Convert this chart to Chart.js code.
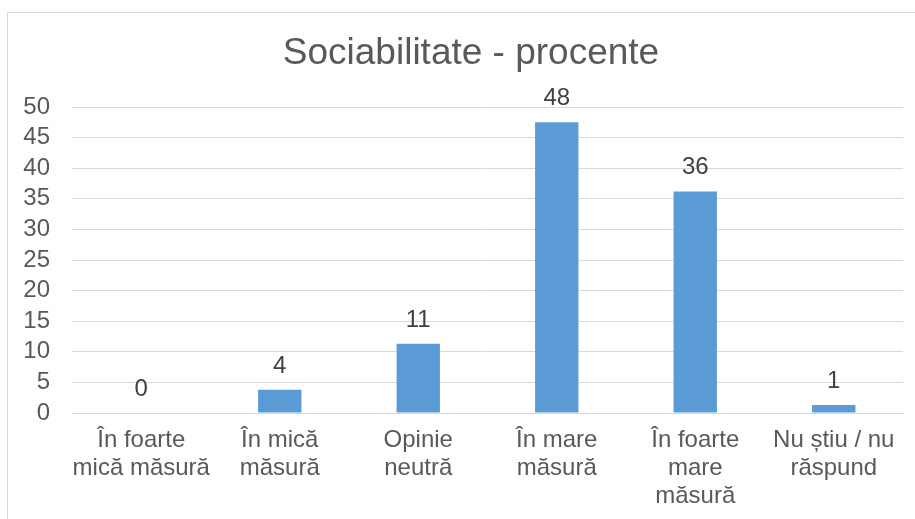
<!DOCTYPE html>
<html lang="ro">
<head>
<meta charset="utf-8">
<title>Sociabilitate - procente</title>
<script src="https://cdn.jsdelivr.net/npm/chart.js@4/dist/chart.umd.min.js"></script>
<style>
    html, body { margin: 0; padding: 0; background: #fff; overflow: hidden; }
    #frame { position: absolute; left: 7px; top: 12px; width: 1000px; height: 600px; border: 1px solid #D9D9D9; }
    #wrap { position: absolute; left: 0; top: 0; width: 942px; height: 519px; }
</style>
</head>
<body>
<div id="frame"></div>
<div id="wrap"><canvas id="chart"></canvas></div>

<script>
// categories (multi-line labels, as in the original)
var categories = [
    ["În foarte", "mică măsură"],
    ["În mică", "măsură"],
    ["Opinie", "neutră"],
    ["În mare", "măsură"],
    ["În foarte", "mare", "măsură"],
    ["Nu știu / nu", "răspund"]
];
// bar heights
var percents = [0, 3.8, 11.3, 47.5, 36.2, 1.3];
// numbers printed above the bars
var shownPercents = [0, 4, 11, 48, 36, 1];
var yTicks = [0, 5, 10, 15, 20, 25, 30, 35, 40, 45, 50];
var chartTitle = 'Sociabilitate - procente';

var fontFamily = '"Liberation Sans", Arial, sans-serif';

// prints the value above each bar
var barLabels = {
    id: 'barLabels',
    afterDatasetsDraw: function(chart) {
        var ctx = chart.ctx;
        var meta = chart.getDatasetMeta(0);
        ctx.save();
        ctx.font = '24px ' + fontFamily;
        ctx.fillStyle = '#404040';
        ctx.textAlign = 'center';
        ctx.textBaseline = 'alphabetic';
        meta.data.forEach(function(bar, i) {
            ctx.fillText(String(shownPercents[i]), bar.x, bar.y - 17);
        });
        ctx.restore();
    }
};

// title centred on the whole frame (not just the plot area)
var frameTitle = {
    id: 'frameTitle',
    afterDraw: function(chart) {
        var ctx = chart.ctx;
        ctx.save();
        ctx.font = '37px ' + fontFamily;
        ctx.fillStyle = '#595959';
        ctx.textAlign = 'center';
        ctx.textBaseline = 'alphabetic';
        ctx.fillText(chartTitle, chart.width / 2, 64);
        ctx.restore();
    }
};

var ctx = document.getElementById("chart").getContext("2d");
var myChart = new Chart(ctx, {
    type: 'bar',
    data: {
        labels: categories,
        datasets: [{
            label: 'Sociabilitate',
            data: percents,
            backgroundColor: '#5B9BD5',
            borderWidth: 0,
            barPercentage: 0.313,
            categoryPercentage: 1
        }]
    },
    options: {
        responsive: true,
        maintainAspectRatio: false,
        animation: false,
        layout: { padding: { left: 0, right: 39, top: 107, bottom: 0 } },
        plugins: {
            legend: { display: false },
            tooltip: { enabled: false },
            title: { display: false }
        },
        scales: {
            x: {
                afterFit: function(scale) { scale.height = 106; },
                grid: { display: false, drawTicks: false },
                border: { display: true, color: '#D9D9D9', width: 1 },
                ticks: {
                    color: '#595959',
                    font: { family: fontFamily, size: 24, lineHeight: 1.167 },
                    padding: 13,
                    maxRotation: 0,
                    autoSkip: false
                }
            },
            y: {
                min: 0,
                max: 50,
                afterBuildTicks: function(scale) {
                    scale.ticks = yTicks.map(function(v) { return { value: v }; });
                },
                afterFit: function(scale) { scale.width = 72; },
                grid: { color: '#D9D9D9', lineWidth: 1, drawTicks: false },
                border: { display: false },
                ticks: {
                    color: '#595959',
                    font: { family: fontFamily, size: 24 },
                    padding: 22,
                    autoSkip: false
                }
            }
        }
    },
    plugins: [barLabels, frameTitle]
});
</script>
</body>
</html>
